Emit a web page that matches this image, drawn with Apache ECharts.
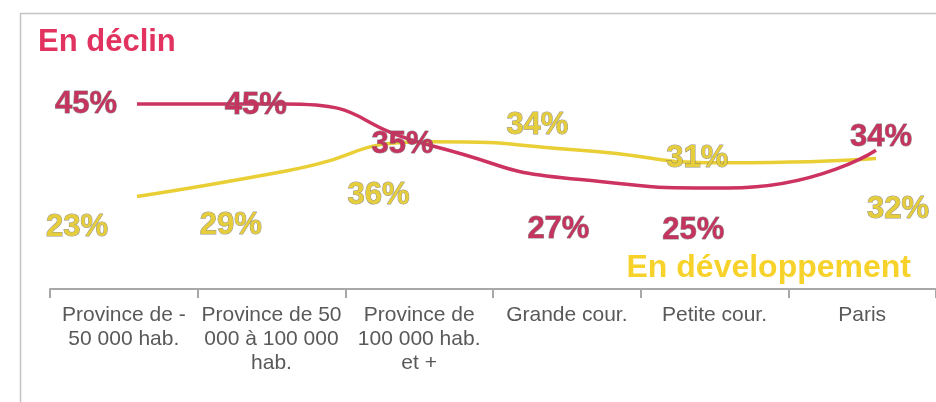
<!DOCTYPE html>
<html>
<head>
<meta charset="utf-8">
<title>En déclin / En développement</title>
<script src="https://cdn.jsdelivr.net/npm/echarts@6/dist/echarts.min.js"></script>
<style>
	html, body { margin: 0; height: 100%; background: #fff; }
	#main { width: 936px; height: 402px; }
</style>
</head>
<body>
<div id="main"></div>
<script>
	// categories (line breaks as in the source chart)
	var categories = [
		'Province de -\n50 000 hab.',
		'Province de 50\n000 à 100 000\nhab.',
		'Province de\n100 000 hab.\net +',
		'Grande cour.',
		'Petite cour.',
		'Paris'
	];
	var declin = [45, 45, 35, 27, 25, 34];
	var developpement = [23, 29, 36, 34, 31, 32];

	// where each value label sits relative to its point (layout only)
	var declinLabelOffset = [[-51, 0], [-29, 1], [-30, -2], [-22, 50], [-35, 42], [5, -13]];
	var devLabelOffset = [[-60, 31], [-54, 54], [-54, 54], [-43, -25], [-31, -4], [22, 51]];

	var RED = '#cc3360';
	var YELLOW = '#e9cf35';

	function withLabels(values, offsets) {
		return values.map(function (v, i) {
			return { value: v, label: { offset: offsets[i] } };
		});
	}

	var myChart = echarts.init(document.getElementById('main'));

	var labelBase = {
		show: true,
		position: 'inside',
		formatter: '{c}%',
		fontFamily: 'Liberation Sans, Arial, sans-serif',
		fontWeight: 'bold',
		fontSize: 31,
		textBorderColor: 'rgba(110,110,110,0.75)',
		textBorderWidth: 1
	};

	var option = {
		animation: false,
		backgroundColor: '#fff',
		title: [{
			text: 'En déclin',
			left: 38,
			top: 27,
			padding: 0,
			textStyle: { fontFamily: 'Liberation Sans, Arial, sans-serif', fontWeight: 'bold', fontSize: 31, color: '#e2325f' }
		}, {
			text: 'En développement',
			right: 25,
			top: 252,
			padding: 0,
			textStyle: { fontFamily: 'Liberation Sans, Arial, sans-serif', fontWeight: 'bold', fontSize: 32, color: '#f6d22a' }
		}],
		graphic: [{
			type: 'rect',
			shape: { x: 20.5, y: 13.5, width: 1000, height: 500 },
			style: { fill: 'none', stroke: '#c4c4c4', lineWidth: 1.5 },
			silent: true
		}],
		grid: [
			{ left: 50, top: 41, width: 887, bottom: 113 },   // visible category axis
			{ left: 137, top: 41, width: 739, bottom: 109 }   // lines, first/last point at the edges
		],
		xAxis: [{
			type: 'category',
			gridIndex: 0,
			data: categories,
			boundaryGap: true,
			axisLine: { lineStyle: { color: '#a8a8a8', width: 2 } },
			axisTick: { show: true, length: 9, lineStyle: { color: '#a8a8a8', width: 2 } },
			axisLabel: {
				interval: 0,
				margin: 14,
				color: '#595959',
				fontFamily: 'Liberation Sans, Arial, sans-serif',
				fontSize: 21,
				lineHeight: 24
			}
		}, {
			type: 'category',
			gridIndex: 1,
			data: categories,
			boundaryGap: false,
			show: false
		}],
		yAxis: [
			{ type: 'value', gridIndex: 0, min: 0, max: 60, show: false, splitLine: { show: false } },
			{ type: 'value', gridIndex: 1, min: 0, max: 60, show: false, splitLine: { show: false } }
		],
		series: [{
			name: 'En développement',
			type: 'line',
			xAxisIndex: 1,
			yAxisIndex: 1,
			smooth: 0.6,
			symbol: 'circle',
			symbolSize: 0,
			lineStyle: { color: YELLOW, width: 3.5 },
			itemStyle: { color: YELLOW },
			label: Object.assign({}, labelBase, { color: '#e6cd3c' }),
			data: withLabels(developpement, devLabelOffset)
		}, {
			name: 'En déclin',
			type: 'line',
			xAxisIndex: 1,
			yAxisIndex: 1,
			smooth: 0.6,
			symbol: 'circle',
			symbolSize: 0,
			lineStyle: { color: RED, width: 3.5 },
			itemStyle: { color: RED },
			label: Object.assign({}, labelBase, { color: '#c4345e' }),
			data: withLabels(declin, declinLabelOffset)
		}]
	};
	myChart.setOption(option);
</script>
</body>
</html>
